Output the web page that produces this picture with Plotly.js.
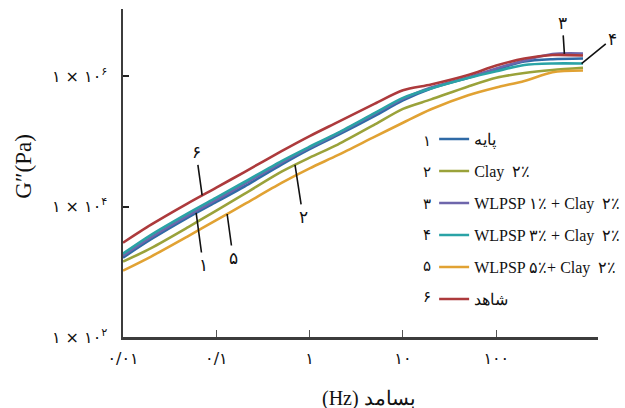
<!DOCTYPE html>
<html>
<head>
<meta charset="utf-8">
<script src="https://cdn.plot.ly/plotly-3.0.1.min.js"></script>
<style>html,body{margin:0;padding:0;background:#fff;}#chart{width:625px;height:408px;}</style>
</head>
<body>
<div id="chart"></div>
<script>
// Frequency (Hz)
const freq = [0.01, 0.02, 0.05, 0.1, 0.2, 0.5, 1, 2, 5, 10, 20, 50, 100, 200, 400, 850];

// Loss modulus G'' (Pa) for each sample
const base = [1648, 3155, 6839, 11803, 20324, 44055, 76033, 124451, 246604, 425598, 648634, 946237, 1264736, 1674943, 1819701, 1862087];
const clay2 = [1432, 2307, 4842, 8690, 15631, 34356, 56364, 89330, 181970, 315500, 440555, 696627, 946237, 1119437, 1244515, 1342765];
const wlpsp1 = [1766, 3388, 7345, 12647, 22233, 47315, 80168, 131220, 265461, 448745, 671429, 954993, 1312175, 1737801, 2182710, 2223300];
const wlpsp3 = [1897, 3681, 7925, 13709, 23823, 49888, 82794, 134896, 273527, 464515, 648634, 939723, 1191242, 1482518, 1563148, 1563148];
const wlpsp5 = [1042, 1714, 3532, 6194, 10889, 23067, 38548, 61376, 118032, 192752, 310456, 510505, 671429, 845279, 1148154, 1221880];
const control = [2790, 5270, 11300, 19500, 33900, 70800, 120500, 197700, 380000, 608000, 746000, 1042000, 1455000, 1862000, 2109000, 2070000];

const seriesNames = ['پایه', 'Clay  ۲٪', 'WLPSP ۱٪ + Clay  ۲٪', 'WLPSP ۳٪ + Clay  ۲٪', 'WLPSP ۵٪+ Clay  ۲٪', 'شاهد'];
const seriesNums = ['۱', '۲', '۳', '۴', '۵', '۶'];
const seriesData = [base, clay2, wlpsp1, wlpsp3, wlpsp5, control];
const colors = ['#2f6aa6', '#9aa23a', '#6e66ab', '#2aa3a6', '#e1a233', '#ad3a3c'];

const xTickVals = [0.01, 0.1, 1, 10, 100];
const xTickText = ['۰/۰۱', '۰/۱', '۱', '۱۰', '۱۰۰'];
const yTickVals = [100, 10000, 1000000];
const yTickText = ['۱ × ۱۰<sup>۲</sup>', '۱ × ۱۰<sup>۴</sup>', '۱ × ۱۰<sup>۶</sup>'];
const xTitle = '(Hz) بسامد';
const yTitle = 'G″(Pa)';

// label callouts: which series, frequency where the leader touches, label offset (px)
const callouts = [
  {s: 5, f: 0.0705, ax: -6, ay: -43},
  {s: 0, f: 0.0608, ax: 7, ay: 52},
  {s: 4, f: 0.1306, ax: 6, ay: 44},
  {s: 1, f: 0.697, ax: 8, ay: 52},
  {s: 2, f: 537, ax: -2, ay: -31},
  {s: 3, f: 820, ax: 31, ay: -25}
];

function valueAt(series, f) {
  const lf = Math.log10(f);
  for (let i = 0; i < freq.length - 1; i++) {
    const a = Math.log10(freq[i]), b = Math.log10(freq[i + 1]);
    if (lf >= a && lf <= b) {
      const t = (lf - a) / (b - a);
      return Math.log10(series[i]) * (1 - t) + Math.log10(series[i + 1]) * t;
    }
  }
  return Math.log10(series[series.length - 1]);
}

const FONT = '"Liberation Serif", "Times New Roman", serif';

const traces = seriesData.map((d, i) => ({
  x: freq, y: d, type: 'scatter', mode: 'lines',
  name: seriesNames[i],
  legendgroup: 'g' + i,
  line: {color: colors[i], width: 2.6, shape: 'spline', smoothing: 0.8},
  hoverinfo: 'skip'
}));

const annotations = [];
callouts.forEach(c => {
  annotations.push({
    x: Math.log10(c.f), y: valueAt(seriesData[c.s], c.f), xref: 'x', yref: 'y',
    text: seriesNums[c.s], showarrow: true, arrowhead: 0, arrowwidth: 1.6, arrowcolor: '#111',
    ax: c.ax, ay: c.ay, standoff: 0, startstandoff: 1,
    font: {family: 'DejaVu Sans', size: 17, color: '#111'}
  });
});
// numbers in front of the legend lines
const legendTop = 0.597, legendStep = 0.0953;
seriesNums.forEach((n, i) => {
  annotations.push({
    xref: 'paper', yref: 'paper', x: 0.641, y: legendTop - i * legendStep,
    text: n, showarrow: false, xanchor: 'center', yanchor: 'middle',
    font: {family: 'DejaVu Sans', size: 15, color: '#111'}
  });
});
// axis titles
annotations.push({
  xref: 'paper', yref: 'paper', x: 0.518, y: -0.186, text: xTitle, showarrow: false,
  xanchor: 'center', yanchor: 'middle', font: {family: FONT, size: 20, color: '#111'}
});
annotations.push({
  xref: 'paper', yref: 'paper', x: -0.21, y: 0.52, text: yTitle, showarrow: false, textangle: -90,
  xanchor: 'center', yanchor: 'middle', font: {family: FONT, size: 23, color: '#111'}
});

const layout = {
  width: 625, height: 408,
  margin: {l: 123, r: 27, t: 9, b: 71, pad: 0, autoexpand: false},
  paper_bgcolor: '#fff', plot_bgcolor: '#fff',
  font: {family: FONT, color: '#111', size: 15},
  showlegend: true,
  legend: {
    x: 0.655, xanchor: 'left', y: 0.655, yanchor: 'top',
    font: {family: FONT, size: 16, color: '#111'},
    bgcolor: 'rgba(0,0,0,0)', borderwidth: 0,
    tracegroupgap: 8.2, itemwidth: 30
  },
  xaxis: {
    type: 'log', range: [-2, 3.09],
    showgrid: false, zeroline: false,
    showline: true, linecolor: '#3c3c3c', linewidth: 2.5,
    ticks: 'inside', ticklen: 7, tickwidth: 1, tickcolor: '#555',
    tickvals: xTickVals, ticktext: xTickText,
    tickfont: {family: 'DejaVu Sans', size: 16, color: '#111'},
    ticklabelstandoff: 5
  },
  yaxis: {
    type: 'log', range: [2, 7.03],
    showgrid: false, zeroline: false,
    showline: true, linecolor: '#3c3c3c', linewidth: 2.5,
    ticks: 'inside', ticklen: 6, tickwidth: 2, tickcolor: '#222',
    tickvals: yTickVals, ticktext: yTickText,
    tickfont: {family: 'DejaVu Sans', size: 16, color: '#111'},
    ticklabelstandoff: 10
  },
  annotations: annotations
};

Plotly.newPlot('chart', traces, layout, {displayModeBar: false, staticPlot: true});
</script>
</body>
</html>
